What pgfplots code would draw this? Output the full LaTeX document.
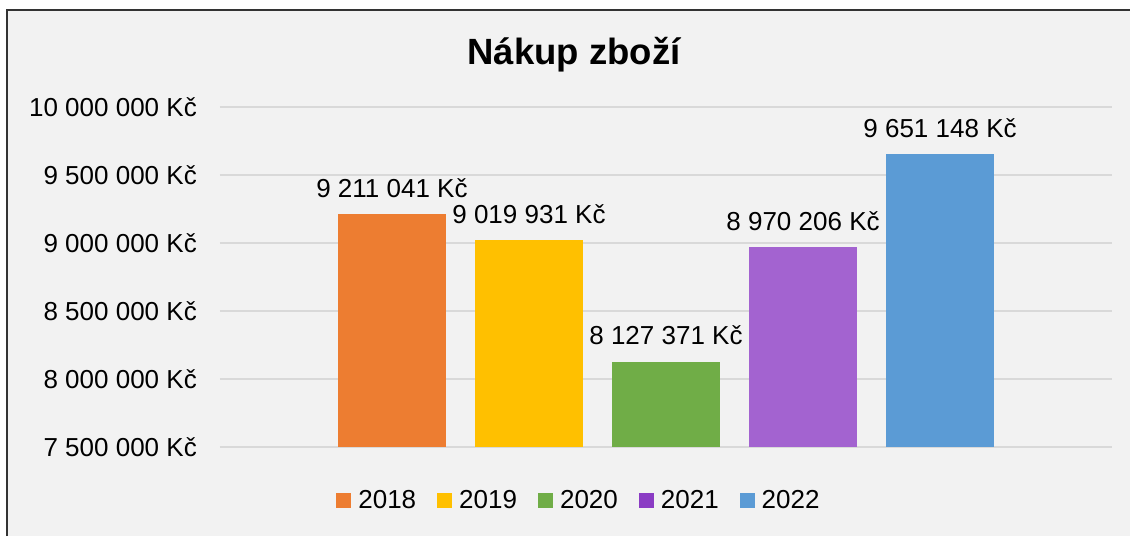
\documentclass[border=0pt]{standalone}
\usepackage{fontspec}
\setmainfont{Liberation Sans}
\usepackage{pgfplots}
\pgfplotsset{compat=1.18}
\definecolor{c18}{HTML}{ED7D31}
\definecolor{c19}{HTML}{FFC000}
\definecolor{c20}{HTML}{70AD47}
\definecolor{c21}{HTML}{A363D0}
\definecolor{c21l}{HTML}{8B3CC4}
\definecolor{c22}{HTML}{5B9BD5}
\definecolor{bgc}{HTML}{F2F2F2}
\definecolor{gridc}{HTML}{D9D9D9}
\pgfplotsset{sq/.style={legend image code/.code={\fill[#1] (0pt,-7.5pt) rectangle (15pt,7.5pt);}}}
\begin{document}
\begin{tikzpicture}[x=1pt,y=1pt]
\useasboundingbox (0,0) rectangle (1130,536);
\fill[bgc] (7,0) rectangle (1130,526);
\draw[line width=1.6pt, black!80] (7,0) -- (7,526) -- (1130,526);
\node[anchor=base, inner sep=0pt, font=\fontsize{36.5}{40}\selectfont\bfseries] at (574,471) {Nákup zboží};
\begin{axis}[
  at={(220pt,89pt)}, anchor=south west,
  scale only axis, width=892pt, height=340pt,
  xmin=-1.255, xmax=5.255, ymin=7500000, ymax=10000000,
  scaled y ticks=false,
  ytick={7500000,8000000,8500000,9000000,9500000,10000000},
  yticklabels={7 500 000 Kč,8 000 000 Kč,8 500 000 Kč,9 000 000 Kč,9 500 000 Kč,10 000 000 Kč},
  xtick=\empty,
  ymajorgrids, grid style={line width=1.2pt, color=gridc},
  axis line style={draw=none},
  major tick length=0pt,
  yticklabel style={anchor=east, inner sep=0pt, xshift=-23pt, font=\fontsize{26}{30}\selectfont},
  ybar, bar width=108pt, bar shift=0pt,
  nodes near coords, point meta=explicit symbolic,
  every node near coord/.append style={anchor=base, yshift=17pt, inner sep=0pt, font=\fontsize{26}{30}\selectfont, text=black},
  legend columns=-1,
  legend style={at={(0.4013,-0.1559)}, anchor=center, draw=none, fill=none,
    font=\fontsize{26}{30}\selectfont,
    nodes={inner sep=0pt},
    /tikz/every even column/.append style={column sep=21pt},
    /tikz/every odd column/.append style={column sep=7pt}},
]
\addplot[fill=c18, draw=none, sq=c18] coordinates {(0,9211041) [9 211 041 Kč]};
\addlegendentry{2018}
\addplot[fill=c19, draw=none, sq=c19] coordinates {(1,9019931) [9 019 931 Kč]};
\addlegendentry{2019}
\addplot[fill=c20, draw=none, sq=c20] coordinates {(2,8127371) [8 127 371 Kč]};
\addlegendentry{2020}
\addplot[fill=c21, draw=none, sq=c21l] coordinates {(3,8970206) [8 970 206 Kč]};
\addlegendentry{2021}
\addplot[fill=c22, draw=none, sq=c22] coordinates {(4,9651148) [9 651 148 Kč]};
\addlegendentry{2022}
\end{axis}
\end{tikzpicture}
\end{document}
